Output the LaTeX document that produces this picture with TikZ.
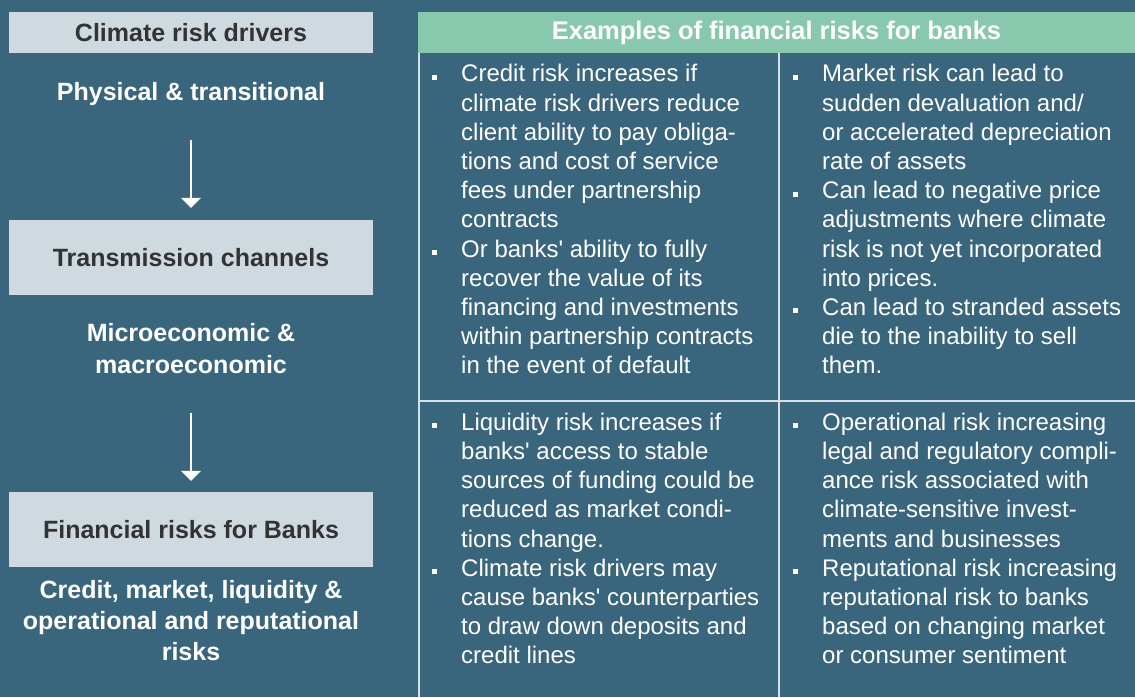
\documentclass[tikz,border=0pt]{standalone}
\usepackage{fontspec}
\setmainfont{Liberation Sans}
\usetikzlibrary{arrows.meta}
\definecolor{bgteal}{RGB}{57,101,125}
\definecolor{paleblue}{RGB}{206,217,224}
\definecolor{mint}{RGB}{136,201,174}
\definecolor{darktext}{RGB}{51,51,51}
\definecolor{gridrule}{RGB}{214,224,230}
\newcommand{\itm}{\makebox[0pt][r]{\raisebox{2.2pt}{\rule{5pt}{5pt}}\hspace{24pt}}}
\newcommand{\ap}{\textquotesingle}

\begin{document}
\begin{tikzpicture}[
  x=1pt,y=-1pt,
  stage/.style={fill=paleblue,text=darktext,font=\fontsize{25}{30}\selectfont\bfseries,
    minimum width=364pt,inner sep=0pt},
  caption/.style={text=white,font=\fontsize{25}{31.6}\selectfont\bfseries,align=center,inner sep=0pt},
  cell/.style={text=white,font=\fontsize{24}{29.2}\selectfont,align=left,inner sep=0pt,anchor=north west},
  flow/.style={draw=white,line width=1.8pt,-{Triangle[width=20pt,length=10pt]}},
  gridline/.style={draw=gridrule,line width=1.5pt}
]
\useasboundingbox (0,0) rectangle (1135,697);
\fill[bgteal] (0,0) rectangle (1135,697);

% left column
\node[stage,minimum height=41pt] (drivers) at (191,32.5) {Climate risk drivers};
\node[caption,anchor=base] (physical) at (191,100) {Physical \& transitional};
\node[stage,minimum height=75pt] (channels) at (191,257.5) {Transmission channels};
\node[caption,anchor=north] (micro) at (191,319.6) {\strut Microeconomic \&\\macroeconomic};
\node[stage,minimum height=75pt] (banks) at (191,529.5) {Financial risks for Banks};
\node[caption,anchor=north,font=\fontsize{25}{31}\selectfont\bfseries] (kinds) at (191,576.3)
  {\strut Credit, market, liquidity \&\\operational and reputational\\risks};

\draw[flow,shorten <=35pt,shorten >=12pt] (physical) -- (channels);
\draw[flow,shorten <=38.7pt,shorten >=11pt] (micro) -- (banks);

% right table
\node[fill=mint,text=white,font=\fontsize{25.5}{30}\selectfont\bfseries,
  minimum width=717pt,minimum height=41pt,inner sep=0pt] (header) at (776.5,32.5)
  {Examples of financial risks for banks};
\draw[gridline] (419,53) -- (419,697);
\draw[gridline] (779,53) -- (779,697);
\draw[gridline] (419,401) -- (1135,401);

\node[cell] (credit) at (461,61.3) {\strut\itm Credit risk increases if\\
  climate risk drivers reduce\\
  client ability to pay obliga-\\
  tions and cost of service\\
  fees under partnership\\
  contracts\\
  \itm Or banks\ap{} ability to fully\\
  recover the value of its\\
  financing and investments\\
  within partnership contracts\\
  in the event of default};

\node[cell] (market) at (822,61.3) {\strut\itm Market risk can lead to\\
  sudden devaluation and/\\
  or accelerated depreciation\\
  rate of assets\\
  \itm Can lead to negative price\\
  adjustments where climate\\
  risk is not yet incorporated\\
  into prices.\\
  \itm Can lead to stranded assets\\
  die to the inability to sell\\
  them.};

\node[cell] (liquidity) at (461,409.6) {\strut\itm Liquidity risk increases if\\
  banks\ap{} access to stable\\
  sources of funding could be\\
  reduced as market condi-\\
  tions change.\\
  \itm Climate risk drivers may\\
  cause banks\ap{} counterparties\\
  to draw down deposits and\\
  credit lines};

\node[cell] (operational) at (822,409.6) {\strut\itm Operational risk increasing\\
  legal and regulatory compli-\\
  ance risk associated with\\
  climate-sensitive invest-\\
  ments and businesses\\
  \itm Reputational risk increasing\\
  reputational risk to banks\\
  based on changing market\\
  or consumer sentiment};
\end{tikzpicture}
\end{document}
